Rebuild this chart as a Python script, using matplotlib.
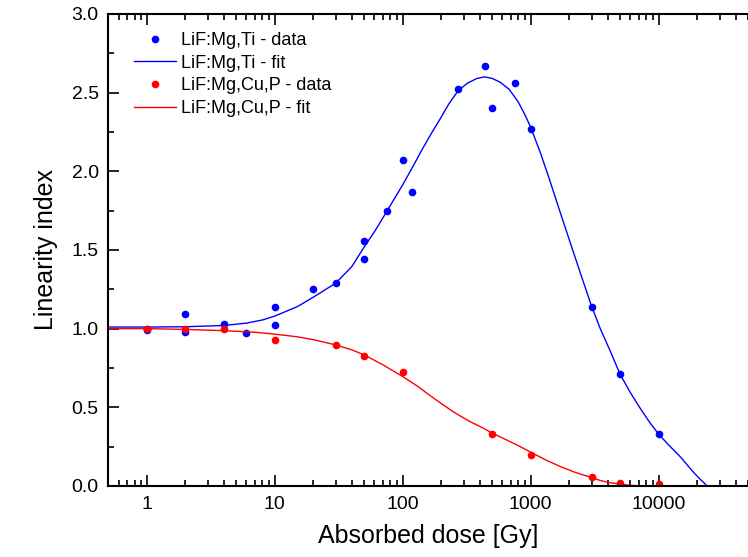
import numpy as np
import matplotlib
matplotlib.use('Agg')
import matplotlib.pyplot as plt
from matplotlib.ticker import FixedLocator, LogLocator, NullFormatter, MultipleLocator

plt.rcParams['font.family'] = ['Liberation Sans', 'DejaVu Sans']

# LiF:Mg,Ti - measured points
ti_dose = [1, 1, 2, 2, 4, 6, 10, 10, 20, 30, 50, 50, 75, 100, 117, 270, 440, 500, 750, 1000, 3000, 5000, 10000]
ti_index = [0.99, 1.0, 1.09, 0.98, 1.03, 0.97, 1.135, 1.02, 1.25, 1.29, 1.56, 1.44, 1.75, 2.07, 1.87,
            2.52, 2.67, 2.40, 2.56, 2.27, 1.14, 0.71, 0.33]

# LiF:Mg,Ti - fit curve
ti_fit_dose = [0.5, 1, 2, 4, 6, 8, 10, 15, 20, 30, 40, 50, 60, 75, 100, 120, 142, 170, 195, 230, 270,
               320, 380, 437, 500, 580, 680, 800, 900, 1000, 1200, 1400, 1700, 2050, 2500, 3000, 3500,
               4200, 5000, 6000, 7100, 8500, 10000, 12000, 14600, 18600, 21000, 24000]
ti_fit_index = [1.01, 1.01, 1.012, 1.02, 1.035, 1.055, 1.08, 1.14, 1.20, 1.29, 1.395, 1.52, 1.615,
                1.745, 1.915, 2.03, 2.14, 2.25, 2.33, 2.43, 2.51, 2.56, 2.59, 2.60, 2.59, 2.565,
                2.52, 2.44, 2.36, 2.28, 2.11, 1.95, 1.74, 1.54, 1.33, 1.14, 1.00, 0.855, 0.71, 0.595,
                0.50, 0.405, 0.33, 0.26, 0.19, 0.09, 0.045, 0.0]

# LiF:Mg,Cu,P - measured points
cu_dose = [1, 2, 4, 10, 30, 50, 100, 500, 1000, 3000, 5000, 10000]
cu_index = [1.0, 1.0, 0.995, 0.93, 0.895, 0.826, 0.727, 0.333, 0.20, 0.055, 0.02, 0.01]

# LiF:Mg,Cu,P - fit curve
cu_fit_dose = [0.5, 1, 2, 4, 7, 10, 15, 20, 30, 40, 50, 70, 100, 130, 160, 195, 250, 334, 420, 500,
               650, 820, 1000, 1300, 1690, 2200, 3000, 3500, 4140, 5000, 5900, 7000, 10000]
cu_fit_index = [1.0, 1.0, 0.995, 0.987, 0.977, 0.965, 0.948, 0.93, 0.896, 0.865, 0.833, 0.77, 0.695,
                0.635, 0.58, 0.53, 0.47, 0.41, 0.37, 0.336, 0.292, 0.252, 0.215, 0.167, 0.125, 0.088,
                0.053, 0.035, 0.021, 0.012, 0.005, 0.0, 0.0]

fig = plt.figure(figsize=(7.48, 5.57), dpi=100)
ax = fig.add_axes([0.145, 0.1275, 0.855, 0.8475])

ax.plot(ti_dose, ti_index, 'o', color='#0000ff', ms=5.5, mec='none', label='LiF:Mg,Ti - data')
ax.plot(ti_fit_dose, ti_fit_index, '-', color='#0000ff', lw=1.0, label='LiF:Mg,Ti - fit')
ax.plot(cu_dose, cu_index, 'o', color='#ff0000', ms=5.5, mec='none', label='LiF:Mg,Cu,P - data')
ax.plot(cu_fit_dose, cu_fit_index, '-', color='#ff0000', lw=1.0, label='LiF:Mg,Cu,P - fit')

ax.set_xscale('log')
ax.set_xlim(0.5, 50000)
ax.set_ylim(0, 3.0)

ax.xaxis.set_major_locator(FixedLocator([1, 10, 100, 1000, 10000]))
ax.set_xticklabels(['1', '10', '100', '1000', '10000'])
ax.xaxis.set_minor_locator(LogLocator(base=10, subs=np.arange(2, 10), numticks=20))
ax.xaxis.set_minor_formatter(NullFormatter())
ax.yaxis.set_major_locator(MultipleLocator(0.5))
ax.yaxis.set_minor_locator(MultipleLocator(0.25))
ax.yaxis.set_major_formatter(matplotlib.ticker.FormatStrFormatter('%.1f'))

ax.tick_params(which='both', direction='in', top=True, right=False, width=1.2, labelsize=14)
ax.tick_params(which='major', length=8, pad=7)
ax.tick_params(which='minor', length=4)

for s in ['left', 'bottom', 'top']:
    ax.spines[s].set_linewidth(1.5)
ax.spines['right'].set_visible(False)

ax.set_xlabel('Absorbed dose [Gy]', fontsize=18, labelpad=8)
ax.set_ylabel('Linearity index', fontsize=18, labelpad=10)

ax.legend(loc='upper left', bbox_to_anchor=(0.04, 0.962), frameon=False, fontsize=13,
          numpoints=1, handlelength=2.3, handletextpad=0.3, labelspacing=0.32,
          borderaxespad=0, borderpad=0)

plt.savefig('out.png', dpi=100)
